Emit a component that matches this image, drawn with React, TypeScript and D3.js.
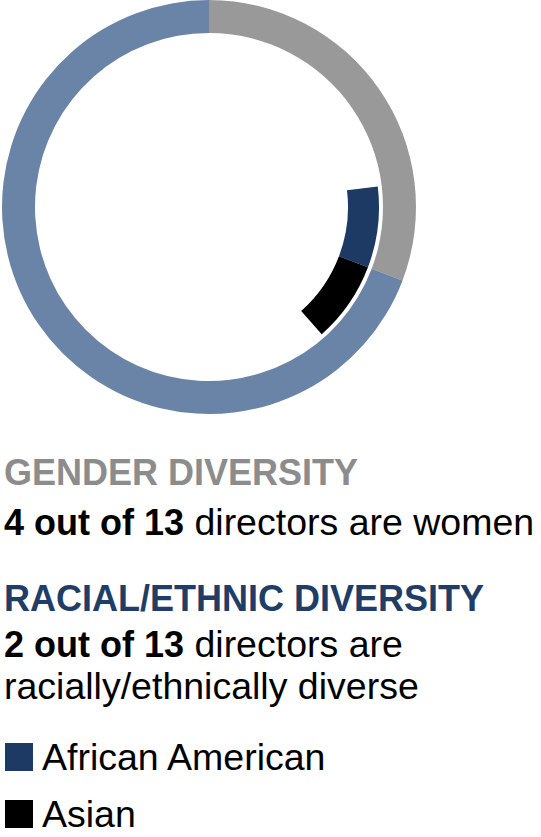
import React from "react";
import * as d3 from "d3";

const totalDirectors = 13;
const genderCategories = ["Women", "Men"];
const genderValues = [4, 9];
const genderColors = ["#999999", "#6a84a8"];

const raceCategories = ["African American", "Asian"];
const raceValues = [1, 1];
const raceColors = ["#1c3a63", "#000000"];

const W = 541;
const H = 837;

export default function App() {
  const cx = 209;
  const cy = 207;
  const outerR = 207;
  const outerInner = 174;
  const innerR = 139;
  const innerOuter = 170;

  const angle = d3.scaleLinear().domain([0, totalDirectors]).range([0, 2 * Math.PI]);

  const genderPie = d3.pie<number>().sort(null).value((d) => d).startAngle(0).endAngle(2 * Math.PI)(genderValues);
  const ringArc = d3.arc<any>().innerRadius(outerInner).outerRadius(outerR);

  // inner arc centred on the boundary of the women segment
  const boundary = angle(genderValues[0]);
  const raceTotal = d3.sum(raceValues);
  const startA = boundary - angle(raceTotal) / 2;
  let acc = 0;
  const raceArcs = raceValues.map((v, i) => {
    const s = startA + angle(acc);
    acc += v;
    const e = startA + angle(acc);
    return { s, e, color: raceColors[i], key: raceCategories[i] };
  });
  const innerArc = d3.arc<any>().innerRadius(innerR).outerRadius(innerOuter);

  const font = "'Liberation Sans', Arial, Helvetica, sans-serif";
  const reg = 37.5;

  return (
    <svg width={W} height={H} style={{ position: "absolute", left: 0, top: 0 }} fontFamily={font}>
      <g transform={`translate(${cx},${cy})`}>
        {genderPie.map((p, i) => (
          <path key={genderCategories[i]} d={ringArc(p) as string} fill={genderColors[i]} />
        ))}
        {raceArcs.map((a) => (
          <path key={a.key} d={innerArc({ startAngle: a.s, endAngle: a.e }) as string} fill={a.color} />
        ))}
      </g>
      <text x={4} y={485} fontSize={36} fontWeight="bold" fill="#8c8c8c">GENDER DIVERSITY</text>
      <text x={4} y={535} fontSize={reg} fill="#000">
        <tspan fontWeight="bold" fontSize={36}>4 out of 13</tspan> directors are women
      </text>
      <text x={4} y={611} fontSize={36} fontWeight="bold" fill="#1f3d66">RACIAL/ETHNIC DIVERSITY</text>
      <text x={4} y={657} fontSize={reg} fill="#000">
        <tspan fontWeight="bold" fontSize={36}>2 out of 13</tspan> directors are
      </text>
      <text x={4} y={699} fontSize={reg} fill="#000">racially/ethnically diverse</text>
      {raceCategories.map((c, i) => (
        <g key={c} transform={`translate(0,${743 + i * 57})`}>
          <rect x={5} y={0} width={28} height={28} fill={raceColors[i]} />
          <text x={42} y={27} fontSize={reg} fill="#000">{c}</text>
        </g>
      ))}
    </svg>
  );
}
